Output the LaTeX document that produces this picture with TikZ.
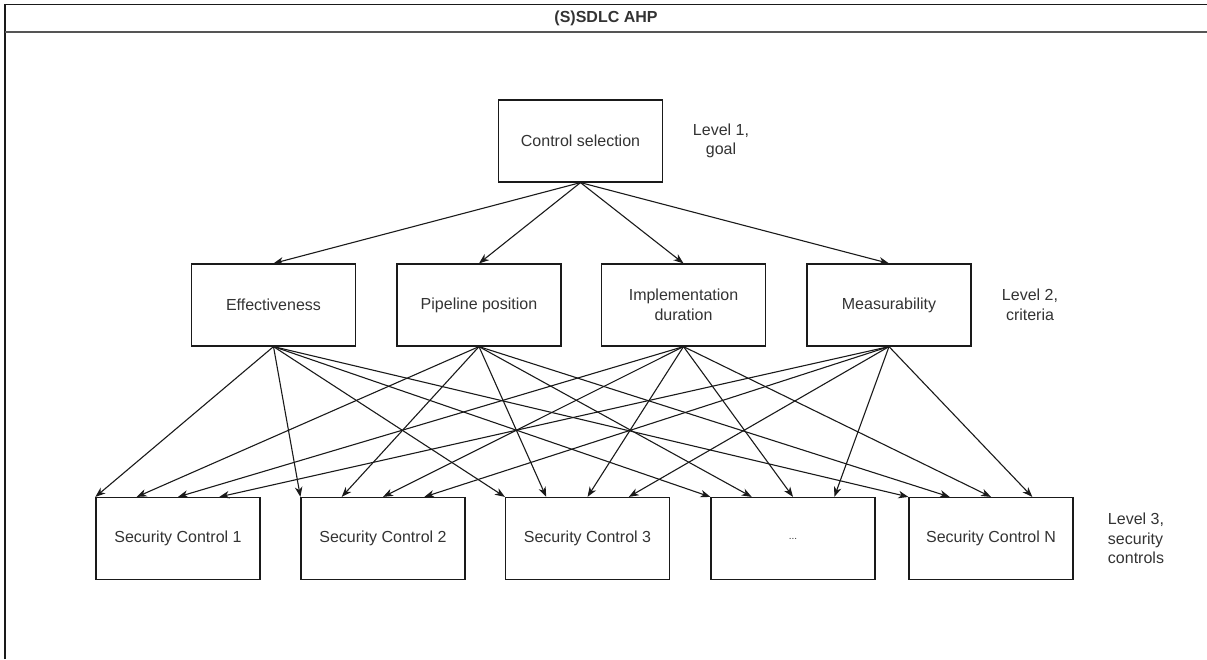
\documentclass[tikz,border=0pt]{standalone}
\usepackage{fontspec}
\setmainfont{Liberation Sans}
\usetikzlibrary{arrows.meta,calc}

\definecolor{inkline}{HTML}{1A1A1A}
\definecolor{inktext}{HTML}{333333}
\definecolor{barline}{HTML}{555555}

\tikzset{
  box/.style={draw=inkline, line width=1.2pt, rectangle, inner sep=0pt,
    minimum width=164pt, minimum height=82pt, text=inktext, align=center,
    font=\fontsize{16}{20}\selectfont},
  levellabel/.style={text=inktext, align=center, inner sep=0pt,
    font=\fontsize{16}{19.5}\selectfont},
  link/.style={draw=inkline, line width=1.1pt,
    -{Stealth[length=10pt, width=7.5pt, inset=3pt]}}
}

\begin{document}
\begin{tikzpicture}[x=1pt, y=-1pt]
  \useasboundingbox (0,0) rectangle (1207,659);

  % outer frame with title bar
  \draw[inkline, line width=1.3pt] (5,659) -- (5,4.5) -- (1207,4.5);
  \draw[barline, line width=2pt] (5,32) -- (1207,32);
  \node[text=inktext, font=\fontsize{16}{19}\selectfont\bfseries, inner sep=0pt]
    (title) at (606,18.5) {(S)SDLC AHP};

  % level 1: goal
  \node[box] (goal) at (580.5,141) {Control selection};
  \node[levellabel] (lab1) at (721,141) {Level 1,\\goal};

  % level 2: criteria
  \node[box] (eff)  at (273.5,305) {Effectiveness};
  \node[box] (pipe) at (479,305)   {Pipeline position};
  \node[box] (impl) at (683.5,305) {Implementation\\duration};
  \node[box] (meas) at (889,305)   {Measurability};
  \node[levellabel] (lab2) at (1030,305) {Level 2,\\criteria};

  % level 3: security controls
  \node[box] (sc1) at (178,538.5)   {Security Control 1};
  \node[box] (sc2) at (383,538.5)   {Security Control 2};
  \node[box] (sc3) at (587.5,538.5) {Security Control 3};
  \node[box] (scx) at (793,538.5)   {\fontsize{10}{12}\selectfont ...};
  \node[box] (scn) at (991,538.5)   {Security Control N};
  \node[levellabel, align=left] (lab3) at (1136,538.5) {Level 3,\\security\\controls};

  % goal -> criteria
  \foreach \c in {eff,pipe,impl,meas}
    \draw[link] (goal.south) -- (\c.north);

  % criteria -> controls: criterion i lands at fraction i/4 along each top edge
  \foreach \c [count=\i from 0] in {eff,pipe,impl,meas}
    \foreach \s in {sc1,sc2,sc3,scx,scn}
      \draw[link] (\c.south) -- ($(\s.north west)!{0.25*\i}!(\s.north east)$);
\end{tikzpicture}
\end{document}
